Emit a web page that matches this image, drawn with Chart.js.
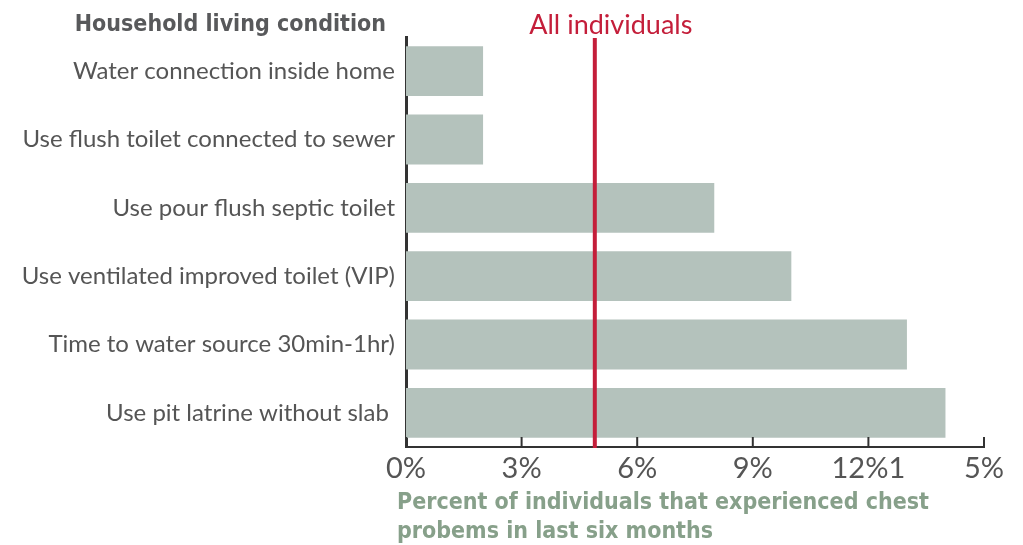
<!DOCTYPE html>
<html>
<head>
<meta charset="utf-8">
<script src="https://cdn.jsdelivr.net/npm/chart.js@4.4.0/dist/chart.umd.min.js"></script>
<style>
  html, body { margin: 0; padding: 0; background: #fff; }
  #wrap { width: 1023px; height: 545px; position: relative; }
</style>
</head>
<body>
<div id="wrap"><canvas id="chestChart" width="1023" height="545"></canvas></div>
<script>
// Datos del gráfico
const categories = [
    'Water connection inside home',
    'Use flush toilet connected to sewer',
    'Use pour flush septic toilet',
    'Use ventilated improved toilet (VIP)',
    'Time to water source 30min-1hr)',
    'Use pit latrine without slab '
];
const percentValues = [2, 2, 8, 10, 13, 14];
const allIndividuals = 4.9;
const tickValues = [0, 3, 6, 9, 12, 15];
const tickLabels = ['0%', '3%', '6%', '9%', '12%1', '5%'];

const labelFont = 'Lato, "Open Sans", sans-serif';
const condensedFont = '"DejaVu Sans Condensed", "DejaVu Sans", sans-serif';

// Líneas, marcas del eje y textos extra
const extrasPlugin = {
    id: 'extras',
    afterDatasetsDraw(chart) {
        const { ctx, chartArea, scales } = chart;
        const x = scales.x;
        ctx.save();

        // marcas hacia dentro en el eje x
        ctx.strokeStyle = '#333';
        ctx.lineWidth = 2;
        tickValues.forEach(v => {
            const px = x.getPixelForValue(v);
            ctx.beginPath();
            ctx.moveTo(px, chartArea.bottom);
            ctx.lineTo(px, chartArea.bottom - 10);
            ctx.stroke();
        });

        // línea de todos los individuos
        const rx = x.getPixelForValue(allIndividuals);
        ctx.strokeStyle = '#c41e3a';
        ctx.lineWidth = 4;
        ctx.beginPath();
        ctx.moveTo(rx, chartArea.top + 1);
        ctx.lineTo(rx, chartArea.bottom + 1);
        ctx.stroke();

        ctx.fillStyle = '#c41e3a';
        ctx.font = '27px ' + labelFont;
        ctx.textAlign = 'center';
        ctx.textBaseline = 'middle';
        ctx.fillText('All individuals', rx + 16, 25);

        // título del eje y
        ctx.fillStyle = '#58595b';
        ctx.font = 'bold 23px ' + condensedFont;
        ctx.textAlign = 'right';
        ctx.fillText('Household living condition', 386, 25);

        // título del eje x
        ctx.fillStyle = '#87a08a';
        ctx.font = 'bold 23px ' + condensedFont;
        ctx.textAlign = 'left';
        ctx.fillText('Percent of individuals that experienced chest', 397, 503);
        ctx.fillText('probems in last six months', 397, 532);

        ctx.restore();
    }
};

const ctx = document.getElementById('chestChart').getContext('2d');
new Chart(ctx, {
    type: 'bar',
    data: {
        labels: categories,
        datasets: [{
            data: percentValues,
            backgroundColor: '#b4c2bc',
            borderWidth: 0,
            barPercentage: 0.73,
            categoryPercentage: 1
        }]
    },
    options: {
        indexAxis: 'y',
        responsive: false,
        animation: false,
        layout: { padding: { top: 37, right: 39, left: 0, bottom: 0 } },
        plugins: {
            legend: { display: false },
            tooltip: { enabled: false }
        },
        scales: {
            x: {
                min: 0,
                max: 15,
                afterFit: scale => { scale.height = 98; },
                afterBuildTicks: scale => {
                    scale.ticks = tickValues.map(v => ({ value: v }));
                },
                grid: { display: false },
                border: { display: true, color: '#333', width: 2 },
                ticks: {
                    color: '#555',
                    font: { family: labelFont, size: 29 },
                    padding: -4,
                    maxRotation: 0,
                    autoSkip: false,
                    callback: (value) => tickLabels[tickValues.indexOf(value)]
                }
            },
            y: {
                afterFit: scale => { scale.width = 406; },
                grid: { display: false },
                border: { display: true, color: '#333', width: 3 },
                ticks: {
                    color: '#555',
                    font: { family: labelFont, size: 24 },
                    padding: 3
                }
            }
        }
    },
    plugins: [extrasPlugin]
});
</script>
</body>
</html>
